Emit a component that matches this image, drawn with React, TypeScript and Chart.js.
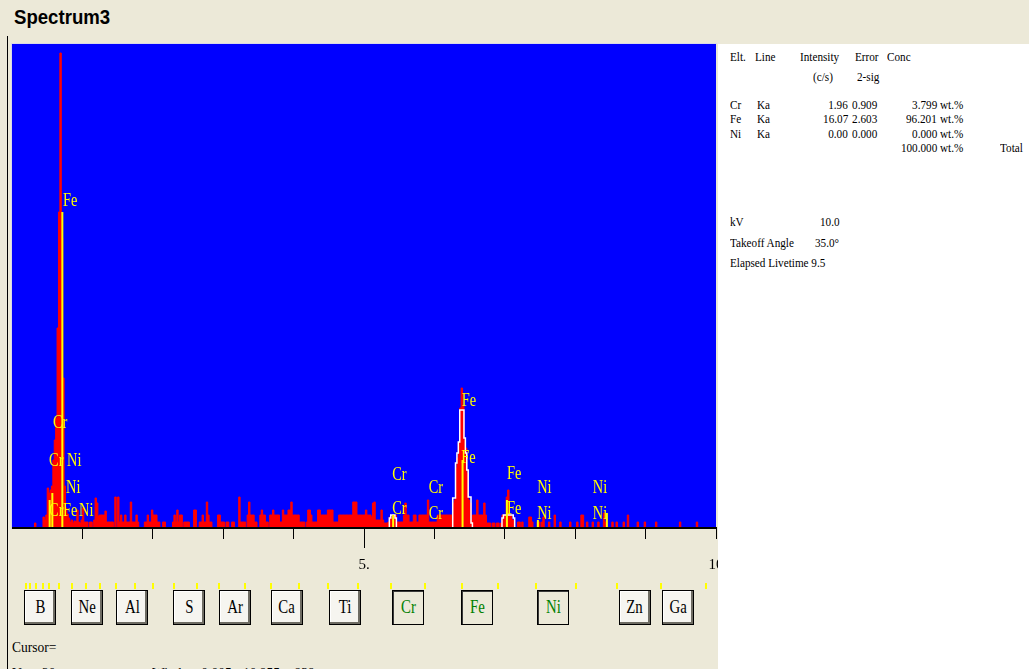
import React, { useEffect, useRef } from 'react';
import { Chart, registerables } from 'chart.js';

Chart.register(...registerables);

// ---------------- data ----------------
const CHANNEL_KEV = 0.02;
const X_MIN = 0;
const X_MAX = 10;
const Y_MAX = 484;

// counts per 0.02 keV channel, 25 channels (0.5 keV) per row
const spectrumCounts: number[] = [
  0, 0, 0, 0, 0, 0, 0, 0, 0, 0, 0, 0, 0, 0, 0, 0, 5, 0, 0, 0, 0, 0, 11, 8, 13,
  40, 35, 38, 42, 68, 88, 110, 200, 316, 475, 290, 150, 42, 20, 14, 10, 6, 8, 5, 7, 6, 18, 6, 5, 8,
  20, 6, 6, 6, 0, 6, 6, 0, 8, 30, 25, 12, 13, 13, 13, 13, 17, 6, 6, 6, 6, 6, 0, 31, 0,
  31, 6, 13, 6, 6, 13, 6, 6, 6, 26, 6, 6, 6, 13, 6, 0, 0, 0, 0, 6, 6, 13, 6, 6, 18,
  13, 13, 13, 6, 6, 0, 0, 6, 6, 0, 0, 0, 0, 0, 6, 13, 6, 18, 6, 13, 13, 0, 6, 6, 6,
  6, 0, 0, 0, 18, 18, 0, 0, 6, 6, 13, 6, 6, 26, 13, 6, 6, 0, 0, 0, 0, 13, 13, 6, 6,
  6, 0, 6, 6, 0, 0, 6, 6, 0, 0, 0, 31, 6, 6, 6, 6, 0, 13, 26, 13, 13, 13, 6, 6, 0,
  0, 13, 18, 13, 13, 6, 6, 0, 13, 13, 18, 13, 13, 13, 13, 6, 6, 18, 13, 13, 13, 18, 18, 26, 13,
  13, 13, 13, 13, 6, 6, 6, 6, 0, 6, 18, 18, 13, 6, 6, 6, 6, 18, 18, 13, 13, 13, 13, 13, 18,
  18, 18, 18, 6, 6, 6, 6, 13, 13, 13, 13, 13, 13, 13, 13, 13, 13, 26, 26, 26, 13, 13, 13, 13, 13,
  13, 18, 13, 13, 13, 11, 25, 26, 8, 8, 8, 8, 18, 8, 5, 5, 5, 6, 11, 11, 13, 13, 13, 6, 6,
  6, 6, 6, 13, 25, 13, 13, 6, 6, 6, 13, 13, 6, 6, 13, 13, 13, 13, 13, 13, 28, 6, 6, 6, 6,
  6, 6, 13, 13, 13, 13, 13, 13, 13, 13, 13, 13, 13, 25, 28, 60, 70, 85, 120, 140, 122, 88, 80, 55, 28,
  25, 8, 13, 13, 13, 28, 13, 13, 13, 13, 25, 13, 5, 5, 5, 0, 5, 5, 0, 5, 5, 0, 5, 13, 13,
  13, 31, 38, 13, 13, 8, 8, 0, 0, 6, 6, 0, 6, 0, 0, 0, 0, 11, 11, 6, 0, 0, 0, 6, 6,
  0, 6, 11, 0, 0, 0, 6, 0, 0, 0, 13, 0, 0, 0, 6, 0, 0, 0, 0, 0, 0, 6, 0, 0, 0,
  0, 6, 0, 0, 13, 13, 0, 0, 6, 0, 0, 0, 6, 0, 0, 0, 6, 0, 0, 0, 15, 6, 0, 0, 0,
  0, 6, 0, 0, 6, 0, 0, 0, 0, 6, 0, 0, 13, 0, 0, 0, 0, 0, 0, 6, 0, 0, 0, 0, 6,
  0, 0, 0, 0, 0, 0, 0, 6, 0, 0, 0, 0, 0, 0, 0, 0, 0, 0, 0, 0, 0, 0, 0, 0, 6,
  0, 0, 0, 0, 0, 0, 0, 0, 0, 0, 0, 6, 0, 0, 0, 0, 0, 0, 0, 0, 0, 0, 0, 0, 0,
];

// fitted peak envelopes (white outline)
const fitStartKeV = [5.36, 6.26, 6.96];
const fitCrKa = [10, 13, 13, 13, 10];
const fitFeKa = [30, 30, 65, 75, 86, 118, 118, 118, 90, 75, 58, 31, 31, 5];
const fitFeKb = [10, 13, 13, 13, 13, 13, 13, 13, 10];

// element line markers (yellow)
const markerKeV = [0.535, 0.573, 0.715, 5.414, 6.4, 7.03, 7.47, 8.45];
const markerCounts = [28, 35, 316, 13, 68, 28, 8, 15];

// peak labels
const labelText = ['Fe', 'Cr', 'Cr', 'Ni', 'Ni', 'Cr', 'Fe', 'Ni', 'Cr', 'Cr', 'Cr', 'Cr', 'Fe', 'Fe', 'Fe', 'Fe', 'Ni', 'Ni', 'Ni', 'Ni'];
const labelKeV = [0.724, 0.582, 0.526, 0.781, 0.767, 0.526, 0.724, 0.952, 5.4, 5.4, 5.92, 5.92, 6.39, 6.38, 7.03, 7.03, 7.46, 7.46, 8.25, 8.25];
const labelCounts = [328, 106, 68, 68, 41, 18, 18, 18, 54, 20, 41, 15, 128, 71, 55, 20, 41, 15, 41, 15];

// axis
const tickLabels: Record<number, string> = { 5: '5.', 10: '10' };
const longTickValues = [5];

// quant table
const tblElements = ['Cr', 'Fe', 'Ni'];
const tblLines = ['Ka', 'Ka', 'Ka'];
const tblIntensity = ['1.96', '16.07', '0.00'];
const tblError = ['0.909', '2.603', '0.000'];
const tblConc = ['3.799', '96.201', '0.000'];
const tblTotal = '100.000';

// periodic buttons
const buttonElements = ['B', 'Ne', 'Al', 'S', 'Ar', 'Ca', 'Ti', 'Cr', 'Fe', 'Ni', 'Zn', 'Ga'];
const buttonKeV = [0.183, 0.849, 1.486, 2.307, 2.957, 3.69, 4.51, 5.414, 6.398, 7.471, 8.63, 9.241];
const selectedElements = ['Cr', 'Fe', 'Ni'];
const roiTickKeV = [0.199, 0.256, 0.341, 0.44, 0.526, 0.668, 0.852, 1.051, 1.25, 1.477, 1.747, 2.003, 2.301, 2.628, 2.94, 3.31, 3.68, 4.077, 4.489, 4.915, 5.384, 5.866, 6.392, 6.903, 7.443, 8.011, 8.594, 9.219, 9.858];

// ---------------- layout ----------------
const BEIGE = '#ECE9D8';
const SERIF = '"Liberation Serif", "DejaVu Serif", serif';
const PLOT_LEFT = 12;
const PX_PER_KEV = 70.4;
const keVtoPx = (e: number) => Math.round(PLOT_LEFT + e * PX_PER_KEV);

function buildSpectrum() {
  const pts = spectrumCounts.map((c, i) => ({ x: +(i * CHANNEL_KEV).toFixed(3), y: c }));
  pts.push({ x: X_MAX, y: 0 });
  return pts;
}

function buildFit() {
  const segs = [fitCrKa, fitFeKa, fitFeKb];
  const pts: { x: number; y: number | null }[] = [];
  segs.forEach((seg, k) => {
    const s = fitStartKeV[k];
    pts.push({ x: s, y: 0 });
    seg.forEach((c, j) => pts.push({ x: +(s + j * CHANNEL_KEV).toFixed(3), y: c }));
    const end = +(s + seg.length * CHANNEL_KEV).toFixed(3);
    pts.push({ x: end, y: 0 });
    pts.push({ x: end, y: null });
  });
  return pts;
}

function buildMarkers() {
  const pts: { x: number; y: number | null }[] = [];
  markerKeV.forEach((e, i) => {
    pts.push({ x: e, y: 0 });
    pts.push({ x: e, y: markerCounts[i] });
    pts.push({ x: e, y: null });
  });
  return pts;
}

const bgPlugin = {
  id: 'blueBg',
  beforeDraw(chart: any) {
    const { ctx, chartArea } = chart;
    ctx.save();
    ctx.fillStyle = '#0000FF';
    ctx.fillRect(chartArea.left, chartArea.top, chartArea.right - chartArea.left, chartArea.bottom - chartArea.top);
    ctx.restore();
  },
};

const labelPlugin = {
  id: 'peakLabels',
  afterDatasetsDraw(chart: any) {
    const { ctx, scales } = chart;
    ctx.save();
    ctx.fillStyle = '#FFFF00';
    ctx.font = '18px "Liberation Serif"';
    ctx.textBaseline = 'middle';
    ctx.textAlign = 'left';
    labelText.forEach((t, i) => {
      const px = scales.x.getPixelForValue(labelKeV[i]);
      const py = scales.y.getPixelForValue(labelCounts[i]);
      ctx.save();
      ctx.translate(px, py);
      ctx.scale(0.8, 1);
      ctx.fillText(t, 0, 1);
      ctx.restore();
    });
    ctx.restore();
  },
};

const longTickPlugin = {
  id: 'longTicks',
  afterDraw(chart: any) {
    const { ctx, chartArea, scales } = chart;
    ctx.save();
    ctx.strokeStyle = '#000';
    ctx.lineWidth = 1;
    longTickValues.forEach((v) => {
      const px = Math.round(scales.x.getPixelForValue(v)) + 0.5;
      ctx.beginPath();
      ctx.moveTo(px, chartArea.bottom + 1);
      ctx.lineTo(px, chartArea.bottom + 20);
      ctx.stroke();
    });
    ctx.restore();
  },
};

function T(props: { x: number; y: number; children: React.ReactNode; align?: 'left' | 'right'; size?: number; color?: string; sx?: number }) {
  const { x, y, children, align = 'left', size = 13, color = '#000', sx = 0.86 } = props;
  const lh = Math.round(size * 1.2);
  const style: React.CSSProperties = {
    position: 'absolute',
    top: y - size * 0.606 - (lh - size * 1.2) / 2,
    whiteSpace: 'nowrap',
    fontFamily: SERIF,
    fontSize: size,
    lineHeight: `${lh}px`,
    color,
    transform: `scaleX(${sx})`,
    transformOrigin: align === 'right' ? 'right center' : 'left center',
  };
  if (align === 'right') style.right = 1029 - x;
  else style.left = x;
  return <div style={style}>{children}</div>;
}

function ElementButton({ label, left, active }: { label: string; left: number; active: boolean }) {
  return (
    <div
      style={{
        position: 'absolute',
        left,
        top: 590,
        width: 32,
        height: 35,
        boxSizing: 'border-box',
        border: '1px solid #000',
        background: active ? BEIGE : '#F6F5F0',
        boxShadow: active ? 'inset 1px 1px 0 #3a3a3a' : 'inset -2px -2px 0 #6E6C63, inset 1px 1px 0 #FFFFFF',
        display: 'flex',
        alignItems: 'center',
        justifyContent: 'center',
        color: active ? '#008000' : '#000',
        fontFamily: SERIF,
        fontSize: 19,
        lineHeight: '20px',
      }}
    >
      <span style={{ display: 'inline-block', transform: 'scaleX(0.78)', marginTop: -1 }}>{label}</span>
    </div>
  );
}

export default function App() {
  const canvasRef = useRef<HTMLCanvasElement | null>(null);

  useEffect(() => {
    const canvas = canvasRef.current;
    if (!canvas) return;
    const chart = new Chart(canvas, {
      type: 'line',
      data: {
        datasets: [
          {
            label: 'markers',
            data: buildMarkers() as any,
            borderColor: '#FFFF00',
            borderWidth: 2,
            pointRadius: 0,
            fill: false,
            spanGaps: false,
          },
          {
            label: 'fit',
            data: buildFit() as any,
            borderColor: '#FFFFFF',
            borderWidth: 1.5,
            pointRadius: 0,
            fill: false,
            stepped: 'before',
            spanGaps: false,
          },
          {
            label: 'spectrum',
            data: buildSpectrum() as any,
            borderColor: '#FF0000',
            backgroundColor: '#FF0000',
            borderWidth: 1,
            pointRadius: 0,
            fill: 'origin',
            stepped: 'before',
          },
        ],
      },
      options: {
        responsive: false,
        animation: false,
        devicePixelRatio: 1,
        events: [],
        layout: { padding: { left: 0, right: 46, top: 0, bottom: 0 } },
        plugins: {
          legend: { display: false },
          tooltip: { enabled: false },
          title: { display: false },
        },
        scales: {
          x: {
            type: 'linear',
            min: X_MIN,
            max: X_MAX,
            offset: false,
            afterFit: (s: any) => {
              s.height = 50;
              s.paddingLeft = 0;
              s.paddingRight = 0;
            },
            ticks: {
              stepSize: 1,
              autoSkip: false,
              maxRotation: 0,
              padding: 17,
              color: '#000',
              font: { family: 'Liberation Serif', size: 15 },
              callback: (v: any) => tickLabels[Number(v)] ?? '',
            },
            grid: {
              drawOnChartArea: false,
              drawTicks: true,
              tickLength: 11,
              tickWidth: 1,
              tickColor: (ctx: any) => (ctx.tick && ctx.tick.value === 0 ? 'rgba(0,0,0,0)' : '#000'),
            },
            border: { display: true, color: '#000', width: 2, z: 1 },
          },
          y: { type: 'linear', display: false, min: 0, max: Y_MAX },
        },
      },
      plugins: [bgPlugin, labelPlugin, longTickPlugin],
    } as any);
    return () => chart.destroy();
  }, []);

  const rowsY = [105, 119, 134];

  return (
    <div style={{ position: 'fixed', left: 0, top: 0, width: 1029, height: 669, overflow: 'hidden', background: BEIGE, fontFamily: SERIF }}>
      <div
        style={{
          position: 'absolute',
          left: 14,
          top: 5,
          fontFamily: '"Liberation Sans", Arial, sans-serif',
          fontWeight: 'bold',
          fontSize: 20,
          lineHeight: '24px',
          transform: 'scaleX(0.93)',
          transformOrigin: 'left center',
          color: '#000',
        }}
      >
        Spectrum3
      </div>
      <div style={{ position: 'absolute', left: 7, top: 36, width: 1, height: 633, background: '#000' }} />
      <div style={{ position: 'absolute', left: 11, top: 43, width: 706, height: 486, borderLeft: '1px solid #D8D8E8', borderTop: '1px solid #D8D8E8', boxSizing: 'border-box' }} />
      <div style={{ position: 'absolute', left: 12, top: 44, width: 706, height: 534, overflow: 'hidden' }}>
        <canvas ref={canvasRef} width={750} height={534} style={{ display: 'block', width: 750, height: 534 }} />
      </div>

      <div style={{ position: 'absolute', left: 718, top: 44, width: 311, height: 625, background: '#FFFFFF' }} />
      <T x={730} y={57}>Elt.</T>
      <T x={755} y={57}>Line</T>
      <T x={800} y={57}>Intensity</T>
      <T x={855} y={57}>Error</T>
      <T x={887} y={57}>Conc</T>
      <T x={813} y={77}>(c/s)</T>
      <T x={857} y={77}>2-sig</T>
      {tblElements.map((el, i) => (
        <React.Fragment key={el}>
          <T x={730} y={rowsY[i]}>{el}</T>
          <T x={757} y={rowsY[i]}>{tblLines[i]}</T>
          <T x={848} y={rowsY[i]} align="right">{tblIntensity[i]}</T>
          <T x={877} y={rowsY[i]} align="right">{tblError[i]}</T>
          <T x={937} y={rowsY[i]} align="right">{tblConc[i]}</T>
          <T x={940} y={rowsY[i]}>wt.%</T>
        </React.Fragment>
      ))}
      <T x={937} y={148} align="right">{tblTotal}</T>
      <T x={940} y={148}>wt.%</T>
      <T x={1000} y={148}>Total</T>
      <T x={730} y={222}>kV</T>
      <T x={820} y={222}>10.0</T>
      <T x={730} y={243}>Takeoff Angle</T>
      <T x={815} y={243}>35.0°</T>
      <T x={730} y={263}>Elapsed Livetime 9.5</T>

      {roiTickKeV.map((e, i) => (
        <div key={i} style={{ position: 'absolute', left: keVtoPx(e) - 1, top: 583, width: 2, height: 6, background: '#FFFF00' }} />
      ))}
      {buttonElements.map((el, i) => (
        <ElementButton key={el} label={el} left={keVtoPx(buttonKeV[i]) - 1} active={selectedElements.includes(el)} />
      ))}

      <T x={12} y={647} size={15} sx={0.9}>Cursor=</T>
      <T x={12} y={673} size={15} sx={0.9}>Vert=20</T>
      <T x={152} y={673} size={15} sx={0.9}>Window 0.005 - 10.955 = 939 cnt</T>
    </div>
  );
}
